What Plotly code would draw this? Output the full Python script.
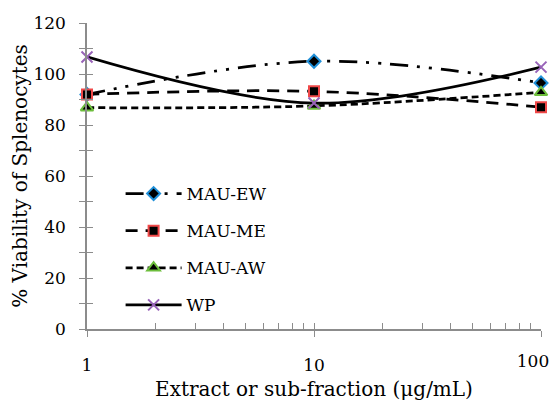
import plotly.graph_objects as go

concentrations = [1, 10, 100]
mau_ew = [92, 105, 96.5]
mau_me = [92, 93.2, 87]
mau_aw = [86.8, 87.5, 92.8]
wp = [106.7, 88.6, 102.7]

y_tick_vals = [0, 20, 40, 60, 80, 100, 120]
x_tick_vals = [1, 10, 100]
x_tick_text = ["1", "10", "100"]

FONT = "DejaVu Serif"
AXIS_COLOR = "#8C8C8C"

fig = go.Figure()

series = [
    ("MAU-EW", mau_ew, "18px,9px,3px,9px,3px,9px",
     dict(symbol="diamond", size=10, color="black", line=dict(color="#1F8FD8", width=2))),
    ("MAU-ME", mau_me, "12px,8px",
     dict(symbol="square", size=10, color="black", line=dict(color="#F04848", width=2))),
    ("MAU-AW", mau_aw, "7px,4px",
     dict(symbol="triangle-up", size=11, color="black", line=dict(color="#6DBE3C", width=2))),
    ("WP", wp, "solid",
     dict(symbol="x-thin-open", size=11, color="#9863B8", line=dict(color="#9863B8", width=2))),
]

for i, (name, vals, dash, marker) in enumerate(series):
    fig.add_trace(go.Scatter(
        x=concentrations, y=vals, name=name, mode="lines+markers",
        line=dict(color="black", width=2.75, dash=dash, shape="spline", smoothing=1),
        marker=marker, legendgroup=name, xaxis="x", yaxis="y", cliponaxis=False,
    ))

# invisible helper traces so the overlay tick axes are drawn
fig.add_trace(go.Scatter(x=[], y=[], xaxis="x2", yaxis="y2", showlegend=False,
                         hoverinfo="skip", mode="markers"))
fig.add_trace(go.Scatter(x=[], y=[], xaxis="x3", yaxis="y", showlegend=False,
                         hoverinfo="skip", mode="markers"))

fig.update_layout(
    width=549, height=393,
    margin=dict(l=79, r=16, t=15, b=72),
    paper_bgcolor="white", plot_bgcolor="white",
    font=dict(family=FONT, size=17, color="black"),
    showlegend=True,
    legend=dict(x=0.074, y=0.5, xanchor="left", yanchor="top",
                bgcolor="rgba(0,0,0,0)", font=dict(size=17),
                tracegroupgap=12, itemwidth=56),
    xaxis=dict(
        type="log", range=[0, 2], automargin=False,
        tickvals=x_tick_vals, ticktext=x_tick_text[:2] + [""],
        ticks="outside", ticklen=6, tickcolor=AXIS_COLOR, tickwidth=1.3,
        ticklabelstandoff=14, ticklabeloverflow="allow",
        showline=True, linecolor=AXIS_COLOR, linewidth=1.5,
        showgrid=False, zeroline=False,
        title=dict(text="Extract or sub-fraction (μg/mL)", standoff=10),
        tickfont=dict(size=17),
    ),
    xaxis2=dict(
        type="log", range=[0, 2], overlaying="x", side="bottom", automargin=False,
        dtick="D1", ticks="inside", ticklen=6, tickcolor=AXIS_COLOR, tickwidth=1.3,
        showticklabels=False, showgrid=False, zeroline=False, showline=False,
    ),
    xaxis3=dict(
        type="log", range=[0, 2], overlaying="x", side="bottom", automargin=False,
        tickvals=x_tick_vals[2:], ticktext=x_tick_text[2:], ticks="",
        ticklabelstandoff=20, ticklabelshift=-8, ticklabeloverflow="allow",
        showgrid=False, zeroline=False, showline=False,
        tickfont=dict(size=17),
    ),
    yaxis=dict(
        range=[0, 120], tickvals=y_tick_vals, automargin=False,
        ticks="outside", ticklen=6, tickcolor=AXIS_COLOR, tickwidth=1.3,
        ticklabelstandoff=10, ticklabeloverflow="allow",
        minor=dict(ticks="outside", dtick=10, ticklen=6, tickcolor=AXIS_COLOR, tickwidth=1.3),
        showline=True, linecolor=AXIS_COLOR, linewidth=1.5,
        showgrid=False, zeroline=False,
        title=dict(text="% Viability of Splenocytes", standoff=5),
        tickfont=dict(size=17),
    ),
    yaxis2=dict(
        range=[0, 120], overlaying="y", side="left", dtick=10, automargin=False,
        ticks="inside", ticklen=6, tickcolor=AXIS_COLOR, tickwidth=1.3,
        showticklabels=False, showgrid=False, zeroline=False, showline=False,
    ),
)

fig.write_html("out.html")
